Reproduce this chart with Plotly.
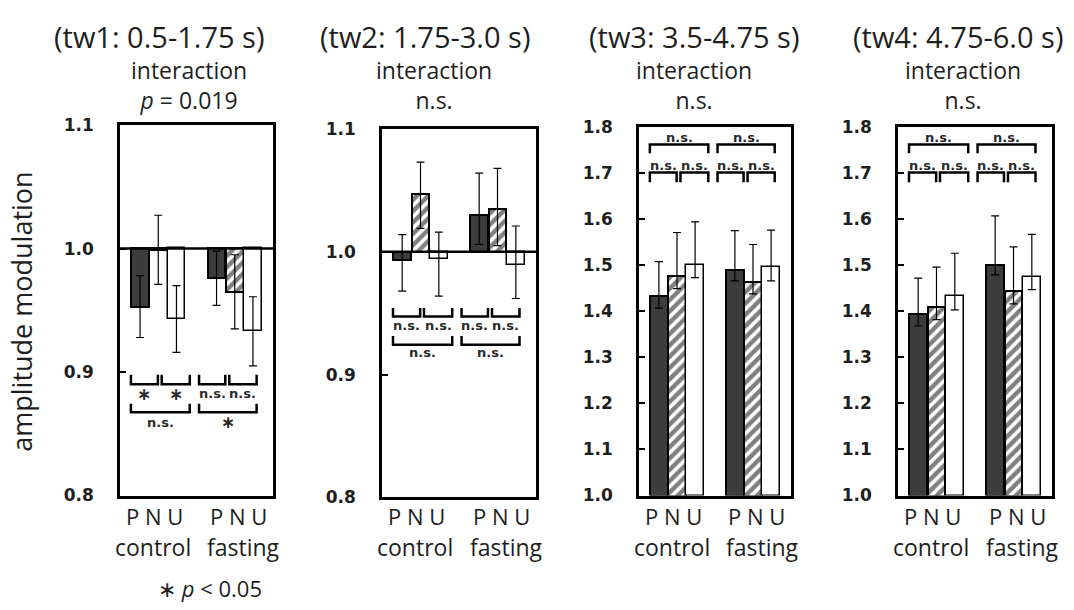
import plotly.graph_objects as go

W, H = 1074, 610

# ---------------- data ----------------
GROUPS = ["control", "fasting"]
CONDITIONS = ["P", "N", "U"]
PANEL_TITLES = ["(tw1: 0.5-1.75 s)", "(tw2: 1.75-3.0 s)", "(tw3: 3.5-4.75 s)", "(tw4: 4.75-6.0 s)"]
INTERACTION_RESULT = ["<i>p</i> = 0.019", "n.s.", "n.s.", "n.s."]

# order: control P, N, U, fasting P, N, U
TW1_MEAN = [0.953, 0.999, 0.943, 0.976, 0.965, 0.933]
TW1_ERR_UP = [0.025, 0.028, 0.027, 0.022, 0.030, 0.028]
TW1_ERR_DOWN = [0.025, 0.028, 0.027, 0.022, 0.030, 0.028]

TW2_MEAN = [0.993, 1.047, 0.994, 1.030, 1.035, 0.989]
TW2_ERR_UP = [0.021, 0.026, 0.022, 0.034, 0.033, 0.032]
TW2_ERR_DOWN = [0.025, 0.028, 0.030, 0.024, 0.030, 0.027]

TW3_MEAN = [1.433, 1.477, 1.500, 1.489, 1.464, 1.496]
TW3_ERR_UP = [0.075, 0.094, 0.094, 0.086, 0.081, 0.080]
TW3_ERR_DOWN = [0.026, 0.028, 0.027, 0.023, 0.026, 0.030]

TW4_MEAN = [1.394, 1.410, 1.433, 1.500, 1.443, 1.475]
TW4_ERR_UP = [0.078, 0.086, 0.093, 0.107, 0.097, 0.092]
TW4_ERR_DOWN = [0.026, 0.028, 0.030, 0.021, 0.027, 0.028]

# pairwise labels: control P-N, control N-U, fasting P-N, fasting N-U
TW1_PAIR_LABELS = ["∗", "∗", "n.s.", "n.s."]
TW2_PAIR_LABELS = ["n.s.", "n.s.", "n.s.", "n.s."]
TW3_PAIR_LABELS = ["n.s.", "n.s.", "n.s.", "n.s."]
TW4_PAIR_LABELS = ["n.s.", "n.s.", "n.s.", "n.s."]
# wide labels: control P-U, fasting P-U
TW1_WIDE_LABELS = ["n.s.", "∗"]
TW2_WIDE_LABELS = ["n.s.", "n.s."]
TW3_WIDE_LABELS = ["n.s.", "n.s."]
TW4_WIDE_LABELS = ["n.s.", "n.s."]

Y_RANGES = [(0.8, 1.1), (0.8, 1.1), (1.0, 1.8), (1.0, 1.8)]
Y_TICKS = [
    [0.8, 0.9, 1.0, 1.1],
    [0.8, 0.9, 1.0, 1.1],
    [1.0, 1.1, 1.2, 1.3, 1.4, 1.5, 1.6, 1.7, 1.8],
    [1.0, 1.1, 1.2, 1.3, 1.4, 1.5, 1.6, 1.7, 1.8],
]
BASELINE = 1.0

MEANS = [TW1_MEAN, TW2_MEAN, TW3_MEAN, TW4_MEAN]
ERR_UP = [TW1_ERR_UP, TW2_ERR_UP, TW3_ERR_UP, TW4_ERR_UP]
ERR_DOWN = [TW1_ERR_DOWN, TW2_ERR_DOWN, TW3_ERR_DOWN, TW4_ERR_DOWN]
PAIR_LABELS = [TW1_PAIR_LABELS, TW2_PAIR_LABELS, TW3_PAIR_LABELS, TW4_PAIR_LABELS]
WIDE_LABELS = [TW1_WIDE_LABELS, TW2_WIDE_LABELS, TW3_WIDE_LABELS, TW4_WIDE_LABELS]

# ---------------- layout constants (pixels) ----------------
BOX_X = [(120, 273), (382, 536), (639, 791), (898, 1052)]
BOX_Y = [(119, 502), (123, 504), (121, 502), (121, 502)]
TITLE_CX = [159, 425, 694, 958]
INTER_CX = [189, 434, 694, 963]
X_POS = [0, 1, 2, 4.2, 5.2, 6.2]
X_RANGE = [-1.1, 7.3]

FONT = "Open Sans"
BOLD = "DejaVu Sans"
TXT = "#1e1e1e"


def px_x(p):
    return p / W


def px_y(p):
    return 1 - p / H


fig = go.Figure()
layout = dict(
    width=W, height=H, margin=dict(l=0, r=0, t=0, b=0),
    paper_bgcolor="white", plot_bgcolor="white", showlegend=False,
    bargap=0, barmode="overlay",
)
annotations = []
shapes = []

fills = [
    dict(color="#3c3c3c", line=dict(color="black", width=2)),
    dict(color="white", line=dict(color="black", width=2),
         pattern=dict(shape="/", fgcolor="black", bgcolor="white", size=8, solidity=0.55)),
    dict(color="white", line=dict(color="black", width=1.5)),
]

for k in range(4):
    ax = "" if k == 0 else str(k + 1)
    xa, ya = "x" + ax, "y" + ax
    m = MEANS[k]
    for c in range(3):
        idx = [c, c + 3]
        fig.add_trace(go.Bar(
            x=[X_POS[i] for i in idx],
            y=[m[i] - BASELINE for i in idx],
            base=BASELINE, width=0.97,
            marker=fills[c], xaxis=xa, yaxis=ya, name=CONDITIONS[c],
        ))
    fig.add_trace(go.Scatter(
        x=X_POS, y=m, mode="markers", marker=dict(size=1, color="rgba(0,0,0,0)"),
        error_y=dict(type="data", symmetric=False, array=ERR_UP[k], arrayminus=ERR_DOWN[k],
                     color="black", thickness=1.2, width=4),
        xaxis=xa, yaxis=ya, showlegend=False,
    ))

    x0, x1 = BOX_X[k]
    yt, yb = BOX_Y[k]
    layout["xaxis" + ax] = dict(
        domain=[px_x(x0), px_x(x1)], range=X_RANGE, anchor=ya,
        showline=True, mirror=True, linecolor="black", linewidth=2.5,
        showgrid=False, zeroline=False, showticklabels=False, ticks="",
    )
    layout["yaxis" + ax] = dict(
        domain=[px_y(yb), px_y(yt)], range=list(Y_RANGES[k]), anchor=xa,
        showline=True, mirror=True, linecolor="black", linewidth=2.5,
        showgrid=False, zeroline=False,
        ticks="inside", ticklen=6, tickwidth=2, tickcolor="black",
        tickvals=Y_TICKS[k], ticktext=["%.1f" % v for v in Y_TICKS[k]],
        tickfont=dict(family=BOLD, size=17, color=TXT, weight="bold"),
        ticklabelstandoff=20,
    )

    # baseline line in the below-1 panels
    if Y_RANGES[k][0] < BASELINE:
        shapes.append(dict(type="line", xref=xa + " domain", yref=ya, x0=0, x1=1,
                           y0=BASELINE, y1=BASELINE, line=dict(color="black", width=2.5),
                           layer="above"))

    # brackets
    x = X_POS
    pair_spans = [(x[0] - 0.5, x[1] - 0.02), (x[1] + 0.19, x[2] + 0.73),
                  (x[3] - 0.96, x[4] - 0.52), (x[4] - 0.3, x[5] + 0.2)]
    wide_spans = [(x[0] - 0.5, x[2] + 0.73), (x[3] - 0.96, x[5] + 0.2)]
    span = Y_RANGES[k][1] - Y_RANGES[k][0]
    ppu = (yb - yt) / span  # pixels per unit

    def yv(p):
        return Y_RANGES[k][1] - (p - yt) / ppu

    if k == 0:
        pl, pe, plab, wl, we, wlab = 387, 377, 397, 416, 407, 426
    elif k == 1:
        pl, pe, plab, wl, we, wlab = 317, 308, 326, 346, 337, 354
    else:
        pl, pe, plab, wl, we, wlab = 168, 178, 161, 139, 148, 132

    for spans, labels, line_px, end_px, lab_px in (
        (pair_spans, PAIR_LABELS[k], pl, pe, plab),
        (wide_spans, WIDE_LABELS[k], wl, we, wlab),
    ):
        for (a, b), lab in zip(spans, labels):
            shapes.append(dict(type="path", xref=xa, yref=ya,
                               path="M %f,%f L %f,%f L %f,%f L %f,%f" % (
                                   a, yv(end_px), a, yv(line_px), b, yv(line_px), b, yv(end_px)),
                               line=dict(color="black", width=2.5)))
            annotations.append(dict(xref=xa, yref=ya, x=(a + b) / 2, y=yv(lab_px), text=lab,
                                    showarrow=False,
                                    font=dict(family=BOLD, size=13 if lab == "n.s." else 17,
                                              color="#2a2a2a", weight="bold"),
                                    xanchor="center", yanchor="middle"))

    # titles
    annotations.append(dict(xref="paper", yref="paper", x=px_x(TITLE_CX[k]), y=px_y(27),
                            text=PANEL_TITLES[k], showarrow=False, xanchor="center", yanchor="middle",
                            font=dict(family=FONT, size=29, color=TXT)))
    annotations.append(dict(xref="paper", yref="paper", x=px_x(INTER_CX[k]), y=px_y(78),
                            text="interaction<br>" + INTERACTION_RESULT[k], showarrow=False,
                            xanchor="center", yanchor="middle", align="center",
                            font=dict(family=FONT, size=23, color=TXT)))

    # category labels
    for g in range(2):
        gc = (X_POS[3 * g] + X_POS[3 * g + 2]) / 2
        annotations.append(dict(xref=xa, yref="paper", x=gc - 0.2 if g == 0 else gc + 0.2, y=px_y(523),
                                text=" ".join(CONDITIONS), showarrow=False, xanchor="center", yanchor="middle",
                                font=dict(family=FONT, size=22, color=TXT)))
        annotations.append(dict(xref=xa, yref="paper", x=gc - 0.3 if g == 0 else gc + 0.5, y=px_y(555),
                                text=GROUPS[g], showarrow=False, xanchor="center", yanchor="middle",
                                font=dict(family=FONT, size=23, color=TXT)))

annotations.append(dict(xref="paper", yref="paper", x=px_x(22), y=px_y(312),
                        text="amplitude modulation", textangle=-90, showarrow=False,
                        xanchor="center", yanchor="middle",
                        font=dict(family=FONT, size=27, color=TXT)))
annotations.append(dict(xref="paper", yref="paper", x=px_x(210), y=px_y(598),
                        text="∗ <i>p</i> &lt; 0.05", showarrow=False,
                        xanchor="center", yanchor="middle",
                        font=dict(family=FONT, size=22, color=TXT)))

layout["annotations"] = annotations
layout["shapes"] = shapes
fig.update_layout(**layout)
fig.write_html("out.html")
